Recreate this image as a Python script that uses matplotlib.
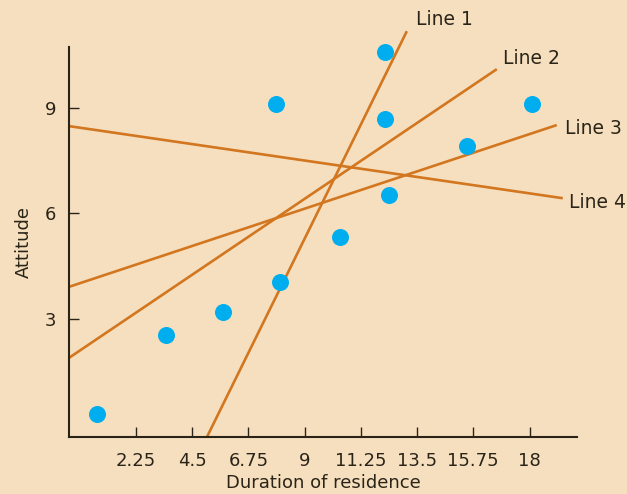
import matplotlib
matplotlib.use("Agg")
import matplotlib.pyplot as plt
import numpy as np

# Data
pts_x = [0.69, 3.45, 5.73, 7.85, 8.0, 10.4, 12.2, 12.2, 12.37, 15.5, 18.1]
pts_y = [0.30, 2.54, 3.2, 9.1, 4.05, 5.33, 10.6, 8.68, 6.52, 7.91, 9.1]

line_names = ["Line 1", "Line 2", "Line 3", "Line 4"]
line_x0 = [5.09, -0.43, -0.43, -0.43]
line_y0 = [-0.36, 1.89, 3.91, 8.48]
line_x1 = [13.09, 16.69, 19.09, 19.33]
line_y1 = [11.18, 10.1, 8.51, 6.43]
label_offsets = [(6.5, 8.3), (4.3, 7.9), (5.8, -2.5), (4.3, -3.2)]

xticks = [2.25, 4.5, 6.75, 9, 11.25, 13.5, 15.75, 18]
xticklabels = ["2.25", "4.5", "6.75", "9", "11.25", "13.5", "15.75", "18"]
yticks = [3, 6, 9]

bg = "#F6DFBF"
line_color = "#D2761F"
dot_color = "#00AEEF"
ink = "#2A2418"

fig = plt.figure(figsize=(6.27, 4.94), dpi=100, facecolor=bg)
ax = fig.add_axes([69/627, 1-437/494, (577-69)/627, (437-47)/494])
ax.set_facecolor(bg)
ax.set_xlim(-0.43, 19.9)
ax.set_ylim(-0.36, 10.73)

for name, x0, y0, x1, y1, off in zip(line_names, line_x0, line_y0, line_x1, line_y1, label_offsets):
    ax.plot([x0, x1], [y0, y1], color=line_color, lw=1.9, clip_on=False, zorder=2,
            solid_capstyle="butt")
    ax.annotate(name, (x1, y1), xytext=off, textcoords="offset points",
                fontsize=13.5, color=ink, ha="left", va="center", annotation_clip=False)

ax.scatter(pts_x, pts_y, s=150, color=dot_color, zorder=3, clip_on=False, linewidths=0)

for s in ["top", "right"]:
    ax.spines[s].set_visible(False)
for s in ["left", "bottom"]:
    ax.spines[s].set_linewidth(1.5)
    ax.spines[s].set_color(ink)

ax.set_xticks(xticks)
ax.set_xticklabels(xticklabels)
ax.set_yticks(yticks)
ax.tick_params(axis="both", direction="in", length=7.5, width=1, color=ink,
               labelcolor=ink, labelsize=13)
ax.tick_params(axis="x", pad=11)
ax.tick_params(axis="y", pad=9)

ax.set_xlabel("Duration of residence", fontsize=13, color=ink, labelpad=2.5)
ax.set_ylabel("Attitude", fontsize=13, color=ink, labelpad=9)

fig.savefig("out.png", dpi=100, facecolor=bg)
